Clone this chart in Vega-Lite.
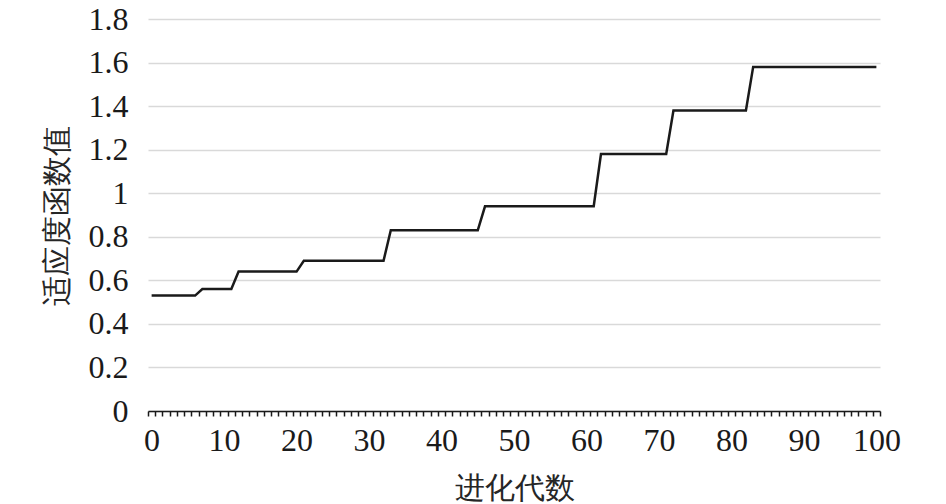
{
  "$schema": "https://vega.github.io/schema/vega-lite/v6.json",
  "width": 732,
  "height": 392,
  "autosize": "none",
  "padding": {"left": 148, "top": 19, "right": 66, "bottom": 93},
  "background": "white",
  "data": {
    "values": [
      {"gen": 0, "fit": 0.53}, {"gen": 1, "fit": 0.53}, {"gen": 2, "fit": 0.53}, {"gen": 3, "fit": 0.53},
      {"gen": 4, "fit": 0.53}, {"gen": 5, "fit": 0.53}, {"gen": 6, "fit": 0.53},
      {"gen": 7, "fit": 0.56}, {"gen": 8, "fit": 0.56}, {"gen": 9, "fit": 0.56}, {"gen": 10, "fit": 0.56},
      {"gen": 11, "fit": 0.56},
      {"gen": 12, "fit": 0.64}, {"gen": 13, "fit": 0.64}, {"gen": 14, "fit": 0.64}, {"gen": 15, "fit": 0.64},
      {"gen": 16, "fit": 0.64}, {"gen": 17, "fit": 0.64}, {"gen": 18, "fit": 0.64}, {"gen": 19, "fit": 0.64},
      {"gen": 20, "fit": 0.64},
      {"gen": 21, "fit": 0.69}, {"gen": 22, "fit": 0.69}, {"gen": 23, "fit": 0.69}, {"gen": 24, "fit": 0.69},
      {"gen": 25, "fit": 0.69}, {"gen": 26, "fit": 0.69}, {"gen": 27, "fit": 0.69}, {"gen": 28, "fit": 0.69},
      {"gen": 29, "fit": 0.69}, {"gen": 30, "fit": 0.69}, {"gen": 31, "fit": 0.69}, {"gen": 32, "fit": 0.69},
      {"gen": 33, "fit": 0.83}, {"gen": 34, "fit": 0.83}, {"gen": 35, "fit": 0.83}, {"gen": 36, "fit": 0.83},
      {"gen": 37, "fit": 0.83}, {"gen": 38, "fit": 0.83}, {"gen": 39, "fit": 0.83}, {"gen": 40, "fit": 0.83},
      {"gen": 41, "fit": 0.83}, {"gen": 42, "fit": 0.83}, {"gen": 43, "fit": 0.83}, {"gen": 44, "fit": 0.83},
      {"gen": 45, "fit": 0.83},
      {"gen": 46, "fit": 0.94}, {"gen": 47, "fit": 0.94}, {"gen": 48, "fit": 0.94}, {"gen": 49, "fit": 0.94},
      {"gen": 50, "fit": 0.94}, {"gen": 51, "fit": 0.94}, {"gen": 52, "fit": 0.94}, {"gen": 53, "fit": 0.94},
      {"gen": 54, "fit": 0.94}, {"gen": 55, "fit": 0.94}, {"gen": 56, "fit": 0.94}, {"gen": 57, "fit": 0.94},
      {"gen": 58, "fit": 0.94}, {"gen": 59, "fit": 0.94}, {"gen": 60, "fit": 0.94}, {"gen": 61, "fit": 0.94},
      {"gen": 62, "fit": 1.18}, {"gen": 63, "fit": 1.18}, {"gen": 64, "fit": 1.18}, {"gen": 65, "fit": 1.18},
      {"gen": 66, "fit": 1.18}, {"gen": 67, "fit": 1.18}, {"gen": 68, "fit": 1.18}, {"gen": 69, "fit": 1.18},
      {"gen": 70, "fit": 1.18}, {"gen": 71, "fit": 1.18},
      {"gen": 72, "fit": 1.38}, {"gen": 73, "fit": 1.38}, {"gen": 74, "fit": 1.38}, {"gen": 75, "fit": 1.38},
      {"gen": 76, "fit": 1.38}, {"gen": 77, "fit": 1.38}, {"gen": 78, "fit": 1.38}, {"gen": 79, "fit": 1.38},
      {"gen": 80, "fit": 1.38}, {"gen": 81, "fit": 1.38}, {"gen": 82, "fit": 1.38},
      {"gen": 83, "fit": 1.58}, {"gen": 84, "fit": 1.58}, {"gen": 85, "fit": 1.58}, {"gen": 86, "fit": 1.58},
      {"gen": 87, "fit": 1.58}, {"gen": 88, "fit": 1.58}, {"gen": 89, "fit": 1.58}, {"gen": 90, "fit": 1.58},
      {"gen": 91, "fit": 1.58}, {"gen": 92, "fit": 1.58}, {"gen": 93, "fit": 1.58}, {"gen": 94, "fit": 1.58},
      {"gen": 95, "fit": 1.58}, {"gen": 96, "fit": 1.58}, {"gen": 97, "fit": 1.58}, {"gen": 98, "fit": 1.58},
      {"gen": 99, "fit": 1.58}, {"gen": 100, "fit": 1.58}
    ]
  },
  "mark": {"type": "line", "color": "#1a1a1a", "strokeWidth": 2.5},
  "encoding": {
    "x": {
      "field": "gen",
      "type": "ordinal",
      "title": "进化代数",
      "scale": {"type": "band", "paddingInner": 0, "paddingOuter": 0},
      "axis": {
        "labelAngle": 0,
        "labelExpr": "datum.value % 10 == 0 ? datum.label : ''",
        "labelOverlap": false,
        "tickBand": "extent",
        "ticks": true,
        "tickSize": 5,
        "tickColor": "#1a1a1a",
        "tickWidth": 1.5,
        "domainColor": "#1a1a1a",
        "domainWidth": 1.5,
        "grid": false,
        "labelPadding": 9,
        "titlePadding": 17
      }
    },
    "y": {
      "field": "fit",
      "type": "quantitative",
      "title": "适应度函数值",
      "scale": {"domain": [0, 1.8], "nice": false},
      "axis": {
        "values": [0, 0.2, 0.4, 0.6, 0.8, 1, 1.2, 1.4, 1.6, 1.8],
        "format": "~g",
        "domain": false,
        "ticks": false,
        "grid": true,
        "gridColor": "#d9d9d9",
        "gridWidth": 1.5,
        "labelPadding": 20,
        "titlePadding": 16
      }
    }
  },
  "config": {
    "font": "Liberation Serif",
    "view": {"stroke": null},
    "axis": {
      "labelFont": "Liberation Serif",
      "labelFontSize": 32,
      "labelColor": "#1a1a1a",
      "titleFont": "Liberation Serif",
      "titleFontSize": 30,
      "titleFontWeight": 300,
      "titleColor": "#262626"
    }
  }
}
